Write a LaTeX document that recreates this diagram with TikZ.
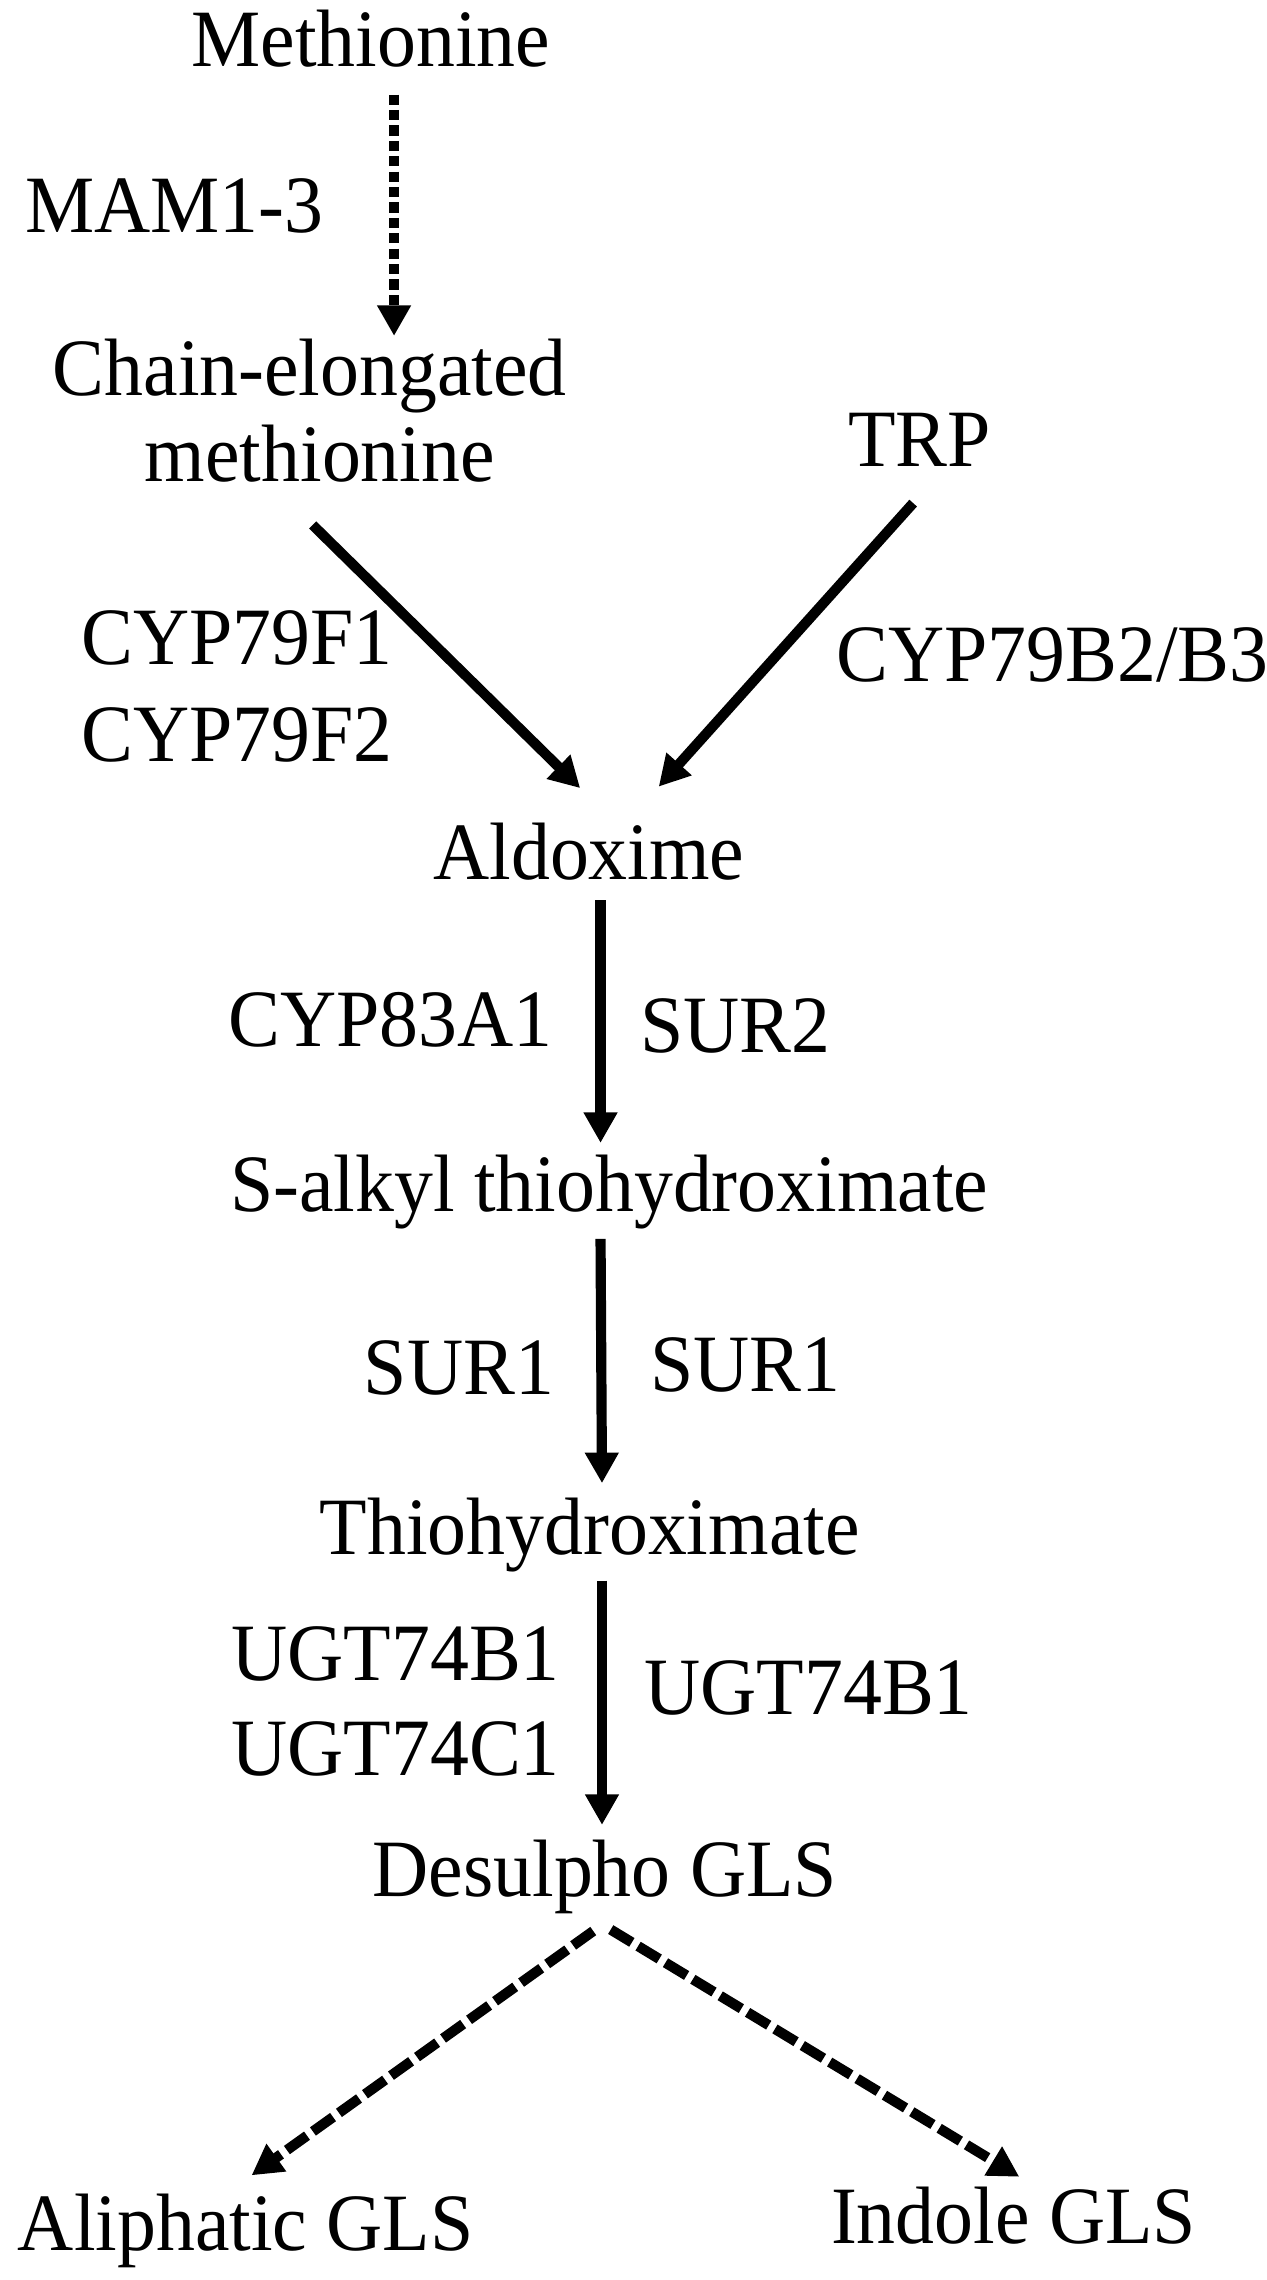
\documentclass[tikz,border=0pt]{standalone}
\usepackage{fontspec}
\setmainfont{Liberation Serif}[FakeStretch=0.955]
\usetikzlibrary{arrows.meta}
\begin{document}
\begin{tikzpicture}[x=1pt,y=1pt,
  lbl/.style={inner sep=0pt, anchor=base, font=\fontsize{56}{60}\selectfont},
  lblw/.style={lbl, anchor=base west},
  arr/.style={line width=7pt, -{Triangle[length=21pt,width=22pt]}},
  dotarr/.style={arr, line width=6.5pt, dash pattern=on 7pt off 3.6pt},
  dasharr/.style={arr, dash pattern=on 17pt off 5pt}]
\useasboundingbox (0,0) rectangle (871,-1568);
% compounds
\node[lbl] (meth) at (255,-46) {Methionine};
\node[lbl] (chain) at (213,-272) {Chain-elongated};
\node[lbl] (chain2) at (220,-331) {methionine};
\node[lbl] (trp) at (632.5,-321) {TRP};
\node[lbl] (ald) at (405,-605) {Aldoxime};
\node[lbl] (salkyl) at (419,-833) {S-alkyl thiohydroximate};
\node[lbl] (thio) at (405.5,-1069) {Thiohydroximate};
\node[lbl] (desul) at (416,-1304) {Desulpho GLS};
\node[lbl] (aliph) at (169,-1548) {Aliphatic GLS};
\node[lbl] (indole) at (697,-1543) {Indole GLS};
% enzymes
\node[lblw] (mam) at (17,-160) {MAM1-3};
\node[lblw] (cypf1) at (56,-457) {CYP79F1};
\node[lblw] (cypf2) at (56,-524) {CYP79F2};
\node[lblw] (cypb) at (575,-469) {CYP79B2/B3};
\node[lblw] (cyp83) at (157,-720) {CYP83A1};
\node[lblw] (sur2) at (440,-724) {SUR2};
\node[lblw] (sur1l) at (250,-959) {SUR1};
\node[lblw] (sur1r) at (447,-957) {SUR1};
\node[lblw] (ugtb1) at (159,-1156) {UGT74B1};
\node[lblw] (ugtc1) at (159,-1221) {UGT74C1};
\node[lblw] (ugtr) at (443,-1179) {UGT74B1};
% connectors
\draw[dotarr] ([shift={(16,-19)}]meth.base) -- ([shift={(58,41)}]chain.base);
\draw[arr] ([shift={(-5,-30)}]chain2.base) -- ([shift={(-6,63)}]ald.base);
\draw[arr] ([shift={(-4.5,-25)}]trp.base) -- ([shift={(48,64)}]ald.base);
\draw[arr] ([shift={(8,-14)}]ald.base) -- ([shift={(-6,47)}]salkyl.base);
\draw[arr] ([shift={(-6,-19)}]salkyl.base) -- ([shift={(8.5,49)}]thio.base);
\draw[arr] ([shift={(8.5,-18)}]thio.base) -- ([shift={(-2,49)}]desul.base);
\draw[dasharr] ([shift={(-8,-24)}]desul.base) -- ([shift={(4,52)}]aliph.base);
\draw[dasharr] ([shift={(4,-23)}]desul.base) -- ([shift={(4,46)}]indole.base);
\end{tikzpicture}
\end{document}
